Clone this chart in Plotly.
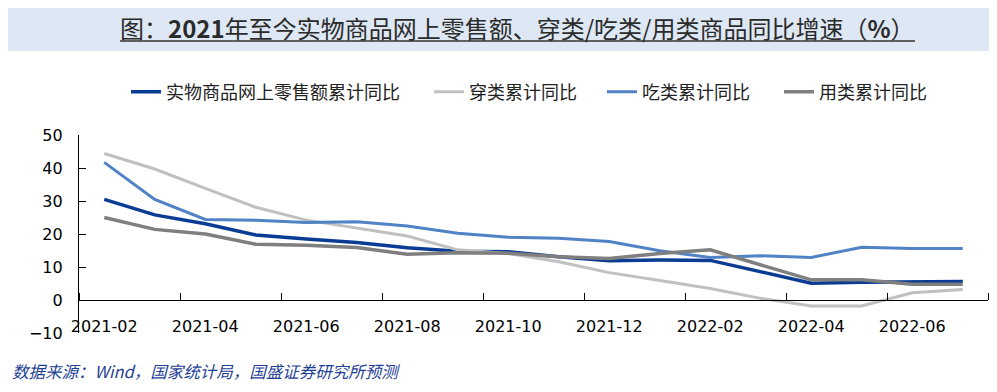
import plotly.graph_objects as go

months = ["2021-02", "2021-03", "2021-04", "2021-05", "2021-06", "2021-07",
          "2021-08", "2021-09", "2021-10", "2021-11", "2021-12", "2022-01",
          "2022-02", "2022-03", "2022-04", "2022-05", "2022-06", "2022-07"]
online_goods = [30.5, 25.8, 23.1, 19.7, 18.5, 17.4, 15.8, 14.8, 14.6, 13.1, 11.9, 12.1,
                12.0, 8.6, 5.1, 5.4, 5.5, 5.6]
clothing = [44.4, 39.7, 33.8, 28.1, 24.2, 21.7, 19.4, 15.2, 14.1, 11.6, 8.3, 5.9,
            3.5, 0.5, -1.8, -1.8, 2.2, 3.2]
food = [41.7, 30.5, 24.4, 24.2, 23.5, 23.7, 22.4, 20.2, 19.0, 18.7, 17.7, 14.9,
        12.9, 13.4, 12.9, 16.0, 15.6, 15.6]
daily_use = [25.0, 21.4, 20.0, 16.9, 16.6, 15.9, 13.9, 14.3, 14.2, 13.1, 12.6, 14.1,
             15.2, 10.6, 6.1, 6.1, 4.8, 4.8]
series_names = ["实物商品网上零售额累计同比", "穿类累计同比", "吃类累计同比", "用类累计同比"]
y_ticks = [-10, 0, 10, 20, 30, 40, 50]

title_text = "图：<b>2021</b>年至今实物商品网上零售额、穿类/吃类/用类商品同比增速（<b>%</b>）"
source_text = "数据来源：Wind，国家统计局，国盛证券研究所预测"

idx = list(range(len(months)))
tick_pos = idx[::2]
tick_lab = months[::2]
boundaries = [i - 0.5 for i in range(0, len(months) + 1, 2)]

colors = ["#0b3c93", "#c0c0c0", "#5082c6", "#7f7f7f"]
widths = [3.5, 3, 3, 3.5]
data = [online_goods, clothing, food, daily_use]
legend_ids = ["legend", "legend2", "legend3", "legend4"]

# page body margin offset (px)
OFF = 8
PAGE_W, PAGE_H = 997, 392
W, H = PAGE_W - OFF, PAGE_H - OFF
# plot area in page coordinates
PL, PR, PT, PB = 79, 988, 135, 333
L, T = PL - OFF, PT - OFF
R, B = W - (PR - OFF), H - (PB - OFF)
pw, ph = PR - PL, PB - PT


def px_x(px):
    return (px - PL) / pw


def px_y(py):
    return (PB - py) / ph


fig = go.Figure()
for name, vals, c, w, lg in zip(series_names, data, colors, widths, legend_ids):
    fig.add_trace(go.Scatter(x=idx, y=vals, mode="lines", name=name,
                             line=dict(color=c, width=w), legend=lg))

leg_font = dict(family="Noto Sans CJK SC", size=18, color="#222222")
leg_x = [126, 429, 602, 779]
legend_layouts = {}
for lg, lx in zip(legend_ids, leg_x):
    legend_layouts[lg] = dict(x=px_x(lx), xanchor="left", y=px_y(92), yanchor="middle",
                              orientation="h", font=leg_font, bgcolor="rgba(0,0,0,0)",
                              borderwidth=0)

fig.update_layout(
    width=W, height=H,
    margin=dict(l=L, r=R, t=T, b=B),
    paper_bgcolor="white", plot_bgcolor="white",
    showlegend=True,
    **legend_layouts,
    xaxis=dict(
        range=[-0.5, len(months) - 0.5],
        anchor="free", position=10 / 60,
        showgrid=False, zeroline=False,
        showline=True, linecolor="black", linewidth=1.3,
        tickmode="array", tickvals=tick_pos, ticktext=tick_lab,
        ticks="", ticklabelstandoff=12,
        tickfont=dict(family="DejaVu Sans", size=16, color="black"),
        minor=dict(tickmode="array", tickvals=boundaries, ticks="inside",
                   ticklen=7, tickcolor="black", tickwidth=1.3),
    ),
    yaxis=dict(
        range=[-10, 50],
        showgrid=False, zeroline=False,
        showline=True, linecolor="black", linewidth=1.3,
        tickmode="array", tickvals=y_ticks,
        ticks="inside", ticklen=7, tickcolor="black", tickwidth=1.3,
        ticklabelstandoff=12,
        tickfont=dict(family="DejaVu Sans", size=16, color="black"),
    ),
    shapes=[
        dict(type="rect", xref="paper", yref="paper",
             x0=px_x(OFF), x1=px_x(PAGE_W), y0=px_y(51), y1=px_y(OFF),
             fillcolor="#dde8f4", line=dict(width=0), layer="below"),
        dict(type="line", xref="paper", yref="paper",
             x0=px_x(120), x1=px_x(915), y0=px_y(41), y1=px_y(41),
             line=dict(color="#333333", width=1.5)),
    ],
    annotations=[
        dict(text=title_text, xref="paper", yref="paper",
             x=px_x(517), y=px_y(28), xanchor="center", yanchor="middle",
             showarrow=False,
             font=dict(family="Noto Sans CJK SC", size=24, color="#2b2b2b")),
        dict(text="<i>" + source_text + "</i>", xref="paper", yref="paper",
             x=px_x(10), y=px_y(371), xanchor="left", yanchor="middle",
             showarrow=False,
             font=dict(family="Noto Sans CJK SC", size=16.5, color="#1f3f95")),
    ],
)

fig.write_html("out.html")
